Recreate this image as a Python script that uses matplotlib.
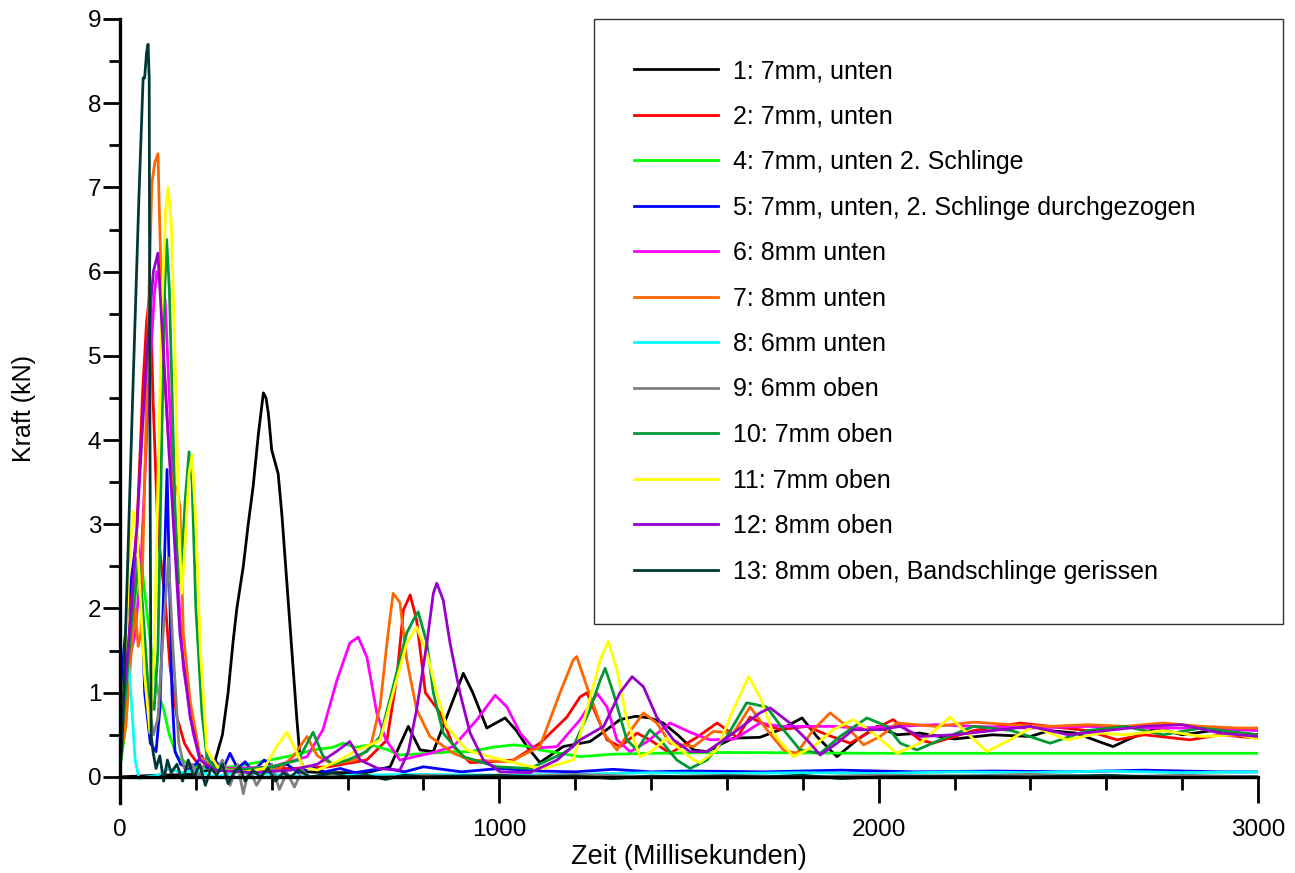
import numpy as np
import matplotlib; matplotlib.use("Agg")
import matplotlib.pyplot as plt
from matplotlib.ticker import MultipleLocator

plt.rcParams["font.family"] = ["Liberation Sans", "DejaVu Sans"]

# ---- data (time in ms, force in kN) ----
labels = ["1: 7mm, unten", "2: 7mm, unten", "4: 7mm, unten 2. Schlinge",
          "5: 7mm, unten, 2. Schlinge durchgezogen", "6: 8mm unten", "7: 8mm unten",
          "8: 6mm unten", "9: 6mm oben", "10: 7mm oben", "11: 7mm oben", "12: 8mm oben",
          "13: 8mm oben, Bandschlinge gerissen"]
colors = ["#000000", "#ff0000", "#00ff00", "#0000ff", "#ff00ff", "#ff6600",
          "#00ffff", "#808080", "#009933", "#ffff00", "#9900cc", "#003838"]

t1 = [0, 100, 200, 245, 270, 285, 298, 308, 325, 338, 351, 365, 378, 385, 391, 400, 417, 427, 440, 453, 466, 475, 490, 550, 650, 712, 740, 760, 791, 826, 861, 905, 930, 967, 1015, 1045, 1073, 1107, 1168, 1239, 1280, 1318, 1360, 1397, 1432, 1470, 1512, 1547, 1580, 1617, 1687, 1740, 1798, 1837, 1890, 1943, 1996, 2048, 2109, 2200, 2300, 2400, 2450, 2520, 2580, 2618, 2660, 2733, 2800, 2880, 2950, 3000]
f1 = [0.0, 0.02, 0.03, 0.1, 0.5, 1.0, 1.6, 2.0, 2.5, 3.0, 3.45, 4.08, 4.56, 4.5, 4.32, 3.88, 3.6, 3.1, 2.3, 1.5, 0.7, 0.2, 0.06, 0.05, 0.05, 0.12, 0.4, 0.6, 0.32, 0.3, 0.71, 1.23, 1.0, 0.58, 0.7, 0.55, 0.36, 0.17, 0.36, 0.42, 0.55, 0.68, 0.72, 0.7, 0.64, 0.5, 0.32, 0.3, 0.38, 0.46, 0.47, 0.56, 0.7, 0.48, 0.24, 0.44, 0.6, 0.5, 0.52, 0.45, 0.5, 0.48, 0.55, 0.52, 0.42, 0.36, 0.45, 0.58, 0.5, 0.55, 0.52, 0.5]

t2 = [0, 15, 30, 45, 60, 70, 80, 87, 100, 119, 132, 150, 170, 185, 211, 250, 350, 450, 550, 650, 704, 730, 747, 765, 782, 805, 844, 879, 923, 980, 1037, 1107, 1178, 1213, 1231, 1258, 1284, 1318, 1363, 1397, 1450, 1521, 1574, 1627, 1661, 1700, 1740, 1811, 1864, 1925, 1986, 2038, 2109, 2143, 2250, 2373, 2450, 2550, 2628, 2700, 2821, 2900, 3000]
f2 = [0.1, 0.8, 2.2, 3.0, 4.6, 5.4, 5.8, 4.5, 2.9, 2.1, 1.3, 0.71, 0.4, 0.28, 0.12, 0.08, 0.1, 0.1, 0.12, 0.2, 0.44, 1.19, 1.98, 2.16, 1.86, 1.0, 0.76, 0.36, 0.17, 0.18, 0.2, 0.4, 0.71, 0.95, 1.0, 0.71, 0.44, 0.36, 0.52, 0.44, 0.28, 0.47, 0.64, 0.47, 0.71, 0.62, 0.56, 0.6, 0.5, 0.4, 0.56, 0.68, 0.44, 0.4, 0.55, 0.64, 0.6, 0.55, 0.44, 0.5, 0.44, 0.5, 0.46]

t4 = [0, 15, 30, 45, 55, 70, 85, 100, 115, 130, 150, 180, 220, 300, 395, 450, 509, 560, 588, 620, 660, 700, 738, 817, 880, 923, 980, 1037, 1080, 1107, 1160, 1213, 1300, 1400, 1600, 2000, 2500, 3000]
f4 = [0.1, 0.6, 1.6, 2.4, 2.6, 2.0, 1.4, 1.0, 0.8, 0.5, 0.25, 0.15, 0.1, 0.12, 0.2, 0.25, 0.32, 0.35, 0.4, 0.35, 0.38, 0.33, 0.26, 0.28, 0.3, 0.3, 0.35, 0.38, 0.36, 0.32, 0.28, 0.24, 0.27, 0.28, 0.29, 0.28, 0.28, 0.28]

t5 = [0, 10, 25, 45, 55, 65, 80, 95, 105, 115, 124, 130, 137, 145, 160, 180, 200, 215, 230, 250, 270, 290, 310, 330, 350, 380, 410, 440, 470, 500, 540, 580, 620, 660, 700, 750, 800, 900, 1000, 1100, 1200, 1300, 1400, 1500, 1700, 1900, 2100, 2300, 2500, 2700, 2900, 3000]
f5 = [0.8, 1.5, 2.2, 2.85, 2.4, 1.0, 0.4, 0.3, 0.8, 2.2, 3.65, 2.4, 1.0, 0.3, 0.15, 0.1, 0.15, 0.25, 0.1, 0.2, 0.08, 0.28, 0.1, 0.18, 0.06, 0.2, 0.1, 0.15, 0.05, 0.12, 0.06, 0.1, 0.05, 0.08, 0.1, 0.06, 0.12, 0.06, 0.1, 0.07, 0.06, 0.09, 0.06, 0.07, 0.06, 0.08, 0.06, 0.07, 0.06, 0.08, 0.06, 0.06]

t6 = [0, 10, 20, 30, 40, 55, 75, 90, 97, 110, 119, 135, 150, 167, 193, 211, 240, 300, 400, 493, 535, 572, 606, 628, 651, 677, 700, 738, 817, 879, 941, 989, 1020, 1055, 1090, 1152, 1213, 1258, 1284, 1310, 1345, 1390, 1450, 1503, 1555, 1620, 1687, 1740, 1880, 1950, 2050, 2150, 2250, 2400, 2550, 2700, 2850, 3000]
f6 = [0.5, 1.0, 1.6, 1.5, 1.7, 2.5, 4.5, 5.7, 6.0, 5.8, 5.67, 4.0, 2.5, 1.3, 0.52, 0.2, 0.12, 0.1, 0.12, 0.24, 0.56, 1.15, 1.59, 1.66, 1.42, 0.76, 0.45, 0.2, 0.28, 0.36, 0.68, 0.97, 0.83, 0.52, 0.34, 0.36, 0.68, 0.99, 0.83, 0.44, 0.3, 0.42, 0.64, 0.53, 0.44, 0.45, 0.64, 0.6, 0.6, 0.58, 0.6, 0.62, 0.6, 0.58, 0.6, 0.58, 0.58, 0.55]

t7 = [0, 15, 30, 40, 48, 55, 65, 75, 84, 92, 100, 105, 115, 130, 140, 150, 158, 167, 185, 211, 250, 350, 420, 456, 493, 520, 560, 620, 660, 686, 704, 720, 738, 756, 782, 817, 879, 923, 1028, 1107, 1160, 1195, 1204, 1231, 1275, 1310, 1354, 1380, 1415, 1450, 1512, 1564, 1617, 1661, 1705, 1749, 1784, 1828, 1872, 1916, 1960, 2004, 2048, 2150, 2250, 2350, 2450, 2550, 2650, 2750, 2850, 2950, 3000]
f7 = [0.2, 0.6, 1.5, 2.0, 1.55, 1.7, 3.5, 5.5, 7.05, 7.3, 7.4, 6.5, 5.0, 3.8, 3.4, 3.45, 3.2, 1.7, 0.9, 0.24, 0.1, 0.08, 0.1, 0.24, 0.48, 0.25, 0.15, 0.2, 0.35, 0.85, 1.6, 2.18, 2.07, 1.39, 0.8, 0.48, 0.28, 0.2, 0.18, 0.36, 1.0, 1.39, 1.43, 1.07, 0.52, 0.32, 0.6, 0.76, 0.64, 0.4, 0.36, 0.54, 0.52, 0.83, 0.56, 0.32, 0.28, 0.56, 0.76, 0.6, 0.38, 0.48, 0.64, 0.6, 0.65, 0.62, 0.6, 0.62, 0.6, 0.64, 0.6, 0.58, 0.58]

t8 = [0, 10, 21, 30, 40, 50, 70, 100, 130, 160, 200, 250, 300, 400, 500, 600, 800, 1000, 1200, 1400, 1600, 1800, 2000, 2200, 2400, 2600, 2800, 3000]
f8 = [0.3, 1.0, 1.45, 0.9, 0.2, -0.02, 0.0, 0.02, 0.1, 0.05, 0.08, 0.0, 0.05, 0.03, 0.0, 0.02, 0.03, 0.02, 0.03, 0.05, 0.04, 0.05, 0.04, 0.06, 0.05, 0.07, 0.05, 0.06]

t9 = [0, 15, 30, 45, 60, 75, 88, 100, 115, 128, 140, 155, 170, 190, 210, 230, 250, 270, 290, 310, 325, 340, 360, 380, 400, 420, 440, 460, 480, 500, 550, 600, 700, 800, 1000, 1200, 1400, 1600, 1800, 2000, 2200, 2400, 2600, 2800, 3000]
f9 = [0.3, 1.2, 2.0, 2.6, 1.8, 0.9, 0.5, 0.7, 1.8, 2.6, 1.5, 0.4, 0.1, 0.15, 0.0, 0.25, 0.05, 0.2, -0.1, 0.15, -0.2, 0.1, -0.1, 0.05, 0.15, -0.15, 0.05, -0.12, 0.08, 0.0, 0.02, 0.0, 0.0, 0.02, 0.0, 0.03, 0.0, 0.02, 0.0, 0.02, 0.01, 0.03, 0.0, 0.02, 0.0]

t10 = [0, 15, 30, 45, 50, 60, 75, 90, 100, 110, 118, 123, 130, 137, 145, 155, 162, 172, 182, 190, 200, 216, 229, 250, 300, 400, 470, 509, 535, 560, 600, 650, 686, 720, 756, 773, 786, 809, 826, 852, 905, 993, 1081, 1168, 1195, 1239, 1266, 1279, 1301, 1336, 1363, 1397, 1424, 1468, 1503, 1547, 1600, 1652, 1705, 1749, 1793, 1846, 1898, 1969, 2022, 2057, 2101, 2162, 2250, 2350, 2452, 2550, 2650, 2750, 2850, 3000]
f10 = [0.3, 1.0, 1.8, 2.4, 2.55, 2.0, 1.0, 0.8, 1.5, 4.0, 5.8, 6.38, 5.8, 4.6, 3.2, 2.3, 2.5, 3.3, 3.86, 3.5, 2.0, 0.76, 0.24, 0.1, 0.08, 0.12, 0.2, 0.53, 0.25, 0.15, 0.2, 0.3, 0.48, 1.07, 1.71, 1.86, 1.96, 1.59, 1.0, 0.52, 0.24, 0.12, 0.1, 0.28, 0.36, 0.8, 1.15, 1.29, 0.99, 0.44, 0.32, 0.56, 0.44, 0.2, 0.1, 0.2, 0.48, 0.88, 0.83, 0.56, 0.32, 0.28, 0.48, 0.7, 0.6, 0.4, 0.32, 0.44, 0.6, 0.55, 0.4, 0.55, 0.6, 0.5, 0.58, 0.5]

t11 = [0, 15, 25, 35, 45, 55, 65, 79, 90, 100, 110, 120, 127, 135, 145, 155, 163, 172, 182, 190, 200, 212, 229, 260, 320, 380, 413, 440, 465, 483, 520, 580, 625, 660, 686, 720, 756, 782, 809, 835, 861, 914, 975, 1063, 1116, 1195, 1231, 1266, 1287, 1310, 1336, 1371, 1400, 1441, 1468, 1512, 1529, 1573, 1617, 1657, 1687, 1722, 1775, 1828, 1880, 1933, 1986, 2048, 2109, 2188, 2285, 2350, 2407, 2496, 2584, 2650, 2750, 2850, 2950, 3000]
f11 = [0.2, 1.5, 2.6, 3.15, 2.9, 2.0, 1.2, 0.52, 1.5, 3.5, 5.5, 6.7, 7.0, 6.6, 5.0, 3.0, 2.18, 2.8, 3.6, 3.82, 3.0, 1.5, 0.32, 0.1, 0.05, 0.1, 0.36, 0.53, 0.3, 0.12, 0.08, 0.2, 0.32, 0.38, 0.44, 1.0, 1.59, 1.78, 1.47, 1.0, 0.6, 0.32, 0.24, 0.14, 0.1, 0.2, 0.8, 1.39, 1.61, 1.27, 0.68, 0.24, 0.3, 0.46, 0.36, 0.2, 0.17, 0.32, 0.8, 1.19, 0.95, 0.52, 0.24, 0.36, 0.56, 0.68, 0.52, 0.28, 0.4, 0.71, 0.3, 0.45, 0.6, 0.44, 0.52, 0.5, 0.55, 0.48, 0.5, 0.45]

t12 = [0, 15, 30, 45, 60, 75, 88, 100, 114, 125, 137, 158, 185, 211, 250, 350, 450, 520, 570, 606, 633, 680, 738, 760, 782, 809, 826, 835, 852, 870, 896, 923, 958, 1002, 1081, 1152, 1213, 1275, 1318, 1350, 1380, 1415, 1459, 1503, 1547, 1617, 1687, 1714, 1766, 1811, 1846, 1890, 1933, 2004, 2057, 2109, 2200, 2300, 2400, 2500, 2600, 2700, 2800, 2900, 3000]
f12 = [0.5, 1.2, 2.0, 3.0, 4.2, 5.3, 6.0, 6.22, 5.07, 4.2, 3.3, 1.7, 0.71, 0.2, 0.08, 0.05, 0.08, 0.15, 0.3, 0.42, 0.2, 0.1, 0.08, 0.3, 0.8, 1.59, 2.18, 2.3, 2.1, 1.59, 1.0, 0.52, 0.2, 0.06, 0.05, 0.2, 0.44, 0.6, 1.0, 1.19, 1.07, 0.71, 0.44, 0.3, 0.3, 0.52, 0.76, 0.82, 0.64, 0.44, 0.26, 0.4, 0.56, 0.56, 0.6, 0.48, 0.5, 0.55, 0.6, 0.5, 0.55, 0.6, 0.62, 0.52, 0.48]

t13 = [0, 5, 20, 34, 50, 61, 65, 70, 74, 77, 79, 82, 87, 95, 105, 115, 125, 135, 150, 165, 180, 195, 210, 225, 240, 255, 270, 285, 300, 315, 330, 350, 370, 390, 410, 430, 450, 470, 500, 530, 560, 600, 650, 700, 750, 800, 900, 1000, 1100, 1200, 1300, 1400, 1500, 1600, 1700, 1800, 1900, 2000, 2200, 2400, 2600, 2800, 3000]
f13 = [0.1, 0.35, 2.5, 4.6, 6.9, 8.3, 8.3, 8.6, 8.7, 8.3, 4.0, 0.5, 0.3, 0.1, 0.25, -0.05, 0.2, 0.05, 0.15, -0.05, 0.2, 0.0, 0.15, -0.1, 0.1, 0.02, 0.15, -0.08, 0.05, 0.12, -0.05, 0.08, 0.0, 0.1, -0.05, 0.05, 0.0, 0.08, 0.0, 0.02, 0.05, 0.0, 0.02, -0.03, 0.02, 0.0, 0.01, 0.02, 0.0, 0.01, -0.02, 0.01, 0.0, 0.01, 0.0, 0.02, -0.02, 0.0, 0.01, 0.0, 0.02, -0.01, 0.0]

times = [t1, t2, t4, t5, t6, t7, t8, t9, t10, t11, t12, t13]
forces = [f1, f2, f4, f5, f6, f7, f8, f9, f10, f11, f12, f13]

# ---- figure ----
W, H = 1295, 873
fig = plt.figure(figsize=(W/100, H/100), dpi=100)
ax = fig.add_axes([120/W, 1-803/H, (1258-120)/W, (803-19)/H])

for t, f, c, lab in zip(times, forces, colors, labels):
    ax.plot(t, f, color=c, lw=2.0, label=lab, solid_joinstyle="round")

ax.set_xlim(0, 3000)
ax.set_ylim(-0.31, 9)
for s in ["top", "right"]: ax.spines[s].set_visible(False)
ax.spines["bottom"].set_position(("data", 0))
ax.spines["left"].set_linewidth(2.4); ax.spines["bottom"].set_linewidth(2.4)
ax.xaxis.set_major_locator(MultipleLocator(1000)); ax.xaxis.set_minor_locator(MultipleLocator(200))
ax.yaxis.set_major_locator(MultipleLocator(1)); ax.yaxis.set_minor_locator(MultipleLocator(0.5))
ax.tick_params(axis="x", which="major", direction="out", length=19, width=2, pad=11, labelsize=17.5)
ax.tick_params(axis="x", which="minor", direction="out", length=9.5, width=2)
ax.tick_params(axis="y", which="major", direction="out", length=12, width=2, pad=1.5, labelsize=17.5)
ax.tick_params(axis="y", which="minor", direction="out", length=8, width=2)

fig.text(689/W, 1-857/H, "Zeit (Millisekunden)", ha="center", va="center", fontsize=19.5)
fig.text(24/W, 1-408/H, "Kraft (kN)", ha="center", va="center", rotation=90, fontsize=18)

leg = ax.legend(loc="upper left", bbox_to_anchor=(594/W, 1-19/H, (1283-594)/W, 0), bbox_transform=fig.transFigure,
                mode="expand", fancybox=False, framealpha=1, edgecolor="#333333", fontsize=18,
                handlelength=3.35, handletextpad=0.6, borderpad=1.6, labelspacing=0.86, borderaxespad=0)
leg.get_frame().set_linewidth(1.0)

fig.savefig("out.png", dpi=100)
